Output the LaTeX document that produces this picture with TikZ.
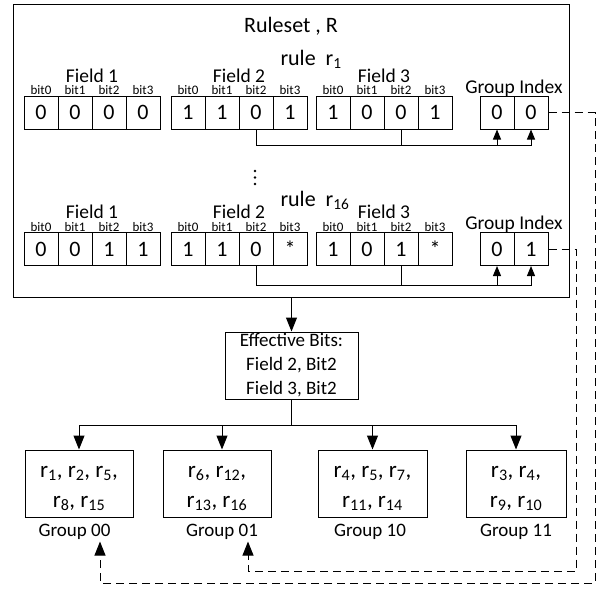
\documentclass[tikz,border=0pt]{standalone}
\usepackage{fontspec}
\setmainfont{Carlito}
\usetikzlibrary{arrows.meta,calc}
\newcommand\rsub[1]{r\textsubscript{#1}}
\begin{document}
\begin{tikzpicture}[x=1pt,y=-1pt,line width=1pt,
  cell/.style={draw,minimum width=34pt,minimum height=33pt,inner sep=0pt,
    font=\fontsize{22}{24}\selectfont},
  bitlbl/.style={anchor=base,inner sep=0pt,font=\fontsize{13}{14}\selectfont},
  fieldlbl/.style={anchor=base,inner sep=0pt,font=\fontsize{19.5}{22}\selectfont},
  rulelbl/.style={anchor=base west,inner sep=0pt,font=\fontsize{22}{24}\selectfont},
  gbox/.style={draw,minimum height=67pt,inner sep=0pt},
  gtext/.style={inner sep=0pt,align=center,font=\fontsize{23}{30}\selectfont},
  glbl/.style={anchor=base,inner sep=0pt,font=\fontsize{19}{22}\selectfont},
  smallarrow/.style={-{Triangle[length=10pt,width=8pt]}},
  bigarrow/.style={-{Triangle[length=14pt,width=11pt]}},
  dasharrow/.style={bigarrow,dash pattern=on 8pt off 5pt},
]
\useasboundingbox (0,0) rectangle (602,589);

% ruleset frame
\node[draw,minimum width=556pt,minimum height=293pt,anchor=north west,inner sep=0pt] (ruleset) at (13,4) {};
\node[anchor=base,inner sep=0pt,font=\fontsize{22}{24}\selectfont] (title) at (291,32) {Ruleset , R};

% ---------- rule r1 ----------
\node[rulelbl] (rule1) at (280,65) {rule \ r\textsubscript{1}};
\foreach \f/\x/\vals in {1/24/{0,0,0,0},2/171/{1,1,0,1},3/316/{1,0,0,1}}{
  \node[fieldlbl] (r1f\f lbl) at (\x+68,82) {Field \f};
  \foreach \v [count=\i from 0] in \vals {
    \node[cell] (r1f\f b\i) at (\x+17+34*\i,112.5) {\v};
    \node[bitlbl] (r1f\f l\i) at (\x+17+34*\i,94.5) {bit\i};
  }
}
\node[fieldlbl] (r1gilbl) at (514,93) {Group Index};
\node[cell] (r1g0) at (497,112.5) {0};
\node[cell] (r1g1) at (531,112.5) {0};

\coordinate (r1bus) at ($(r1f2b2.south)+(0,16)$);
\draw[smallarrow] (r1f2b2.south) -- (r1bus) -| (r1g1.south);
\draw (r1f3b2.south) -- (r1f3b2.south |- r1bus);
\draw[smallarrow] (r1g0.south |- r1bus) -- (r1g0.south);

% vertical ellipsis between the two rules
\foreach \yy in {171,177.5,184}
  \fill (255,\yy) circle (1.4pt);

% ---------- rule r16 ----------
\node[rulelbl] (rule16) at (280,206) {rule \ r\textsubscript{16}};
\foreach \f/\x/\vals in {1/24/{0,0,1,1},2/171/{1,1,0,*},3/316/{1,0,1,*}}{
  \node[fieldlbl] (r16f\f lbl) at (\x+68,218) {Field \f};
  \foreach \v [count=\i from 0] in \vals {
    \node[cell] (r16f\f b\i) at (\x+17+34*\i,249) {\v};
    \node[bitlbl] (r16f\f l\i) at (\x+17+34*\i,231) {bit\i};
  }
}
\node[fieldlbl] (r16gilbl) at (514,229) {Group Index};
\node[cell] (r16g0) at (497,249) {0};
\node[cell] (r16g1) at (531,249) {1};

\coordinate (r16bus) at ($(r16f2b2.south)+(0,19)$);
\draw[smallarrow] (r16f2b2.south) -- (r16bus) -| (r16g1.south);
\draw (r16f3b2.south) -- (r16f3b2.south |- r16bus);
\draw[smallarrow] (r16g0.south |- r16bus) -- (r16g0.south);

% ---------- effective bits ----------
\node[draw,minimum width=133pt,minimum height=67pt,inner sep=0pt,align=center,
  font=\fontsize{19}{23}\selectfont] (eff) at (291.5,365.5)
  {Effective Bits:\\[1pt]Field 2, Bit2\\[1pt]Field 3, Bit2};
\draw[bigarrow] (ruleset.south) -- (eff.north);

% ---------- groups ----------
\node[gbox,minimum width=108pt] (g00) at (79,483.5) {};
\node[gbox,minimum width=108pt] (g01) at (217,483.5) {};
\node[gbox,minimum width=109pt] (g10) at (372.5,483.5) {};
\node[gbox,minimum width=100pt] (g11) at (516,483.5) {};
\node[gtext] (g00t) at ($(g00)+(0,5)$) {\rsub{1}, \rsub{2}, \rsub{5},\\\rsub{8}, \rsub{15}};
\node[gtext] (g01t) at ($(g01)+(0,5)$) {\rsub{6}, \rsub{12},\\\rsub{13}, \rsub{16}};
\node[gtext] (g10t) at ($(g10)+(0,5)$) {\rsub{4}, \rsub{5}, \rsub{7},\\\rsub{11}, \rsub{14}};
\node[gtext] (g11t) at ($(g11)+(0,5)$) {\rsub{3}, \rsub{4},\\\rsub{9}, \rsub{10}};

\node[glbl] (g00lbl) at (74.5,536) {Group 00};
\node[glbl] (g01lbl) at (222,536) {Group 01};
\node[glbl] (g10lbl) at (370,536) {Group 10};
\node[glbl] (g11lbl) at (516,536) {Group 11};

\coordinate (gbus) at (291.5,425);
\draw (eff.south) -- (gbus);
\draw (g00.north |- gbus) -- (g11.north |- gbus);
\draw[bigarrow] (g00.north |- gbus) -- (g00.north);
\draw[bigarrow] ($(g01.north |- gbus)+(5,0)$) -- ($(g01.north)+(5,0)$);
\draw[bigarrow] (g10.north |- gbus) -- (g10.north);
\draw[bigarrow] (g11.north |- gbus) -- (g11.north);

% ---------- group index feedback ----------
\coordinate (fb1) at (595,583);
\coordinate (fb2) at (576,571);
\draw[dasharrow] (r1g1.east) -| (fb1) -| ($(g00lbl.south)+(25.5,2)$);
\draw[dasharrow] (r16g1.east) -| (fb2) -| ($(g01lbl.south)+(26,2)$);
\end{tikzpicture}
\end{document}
